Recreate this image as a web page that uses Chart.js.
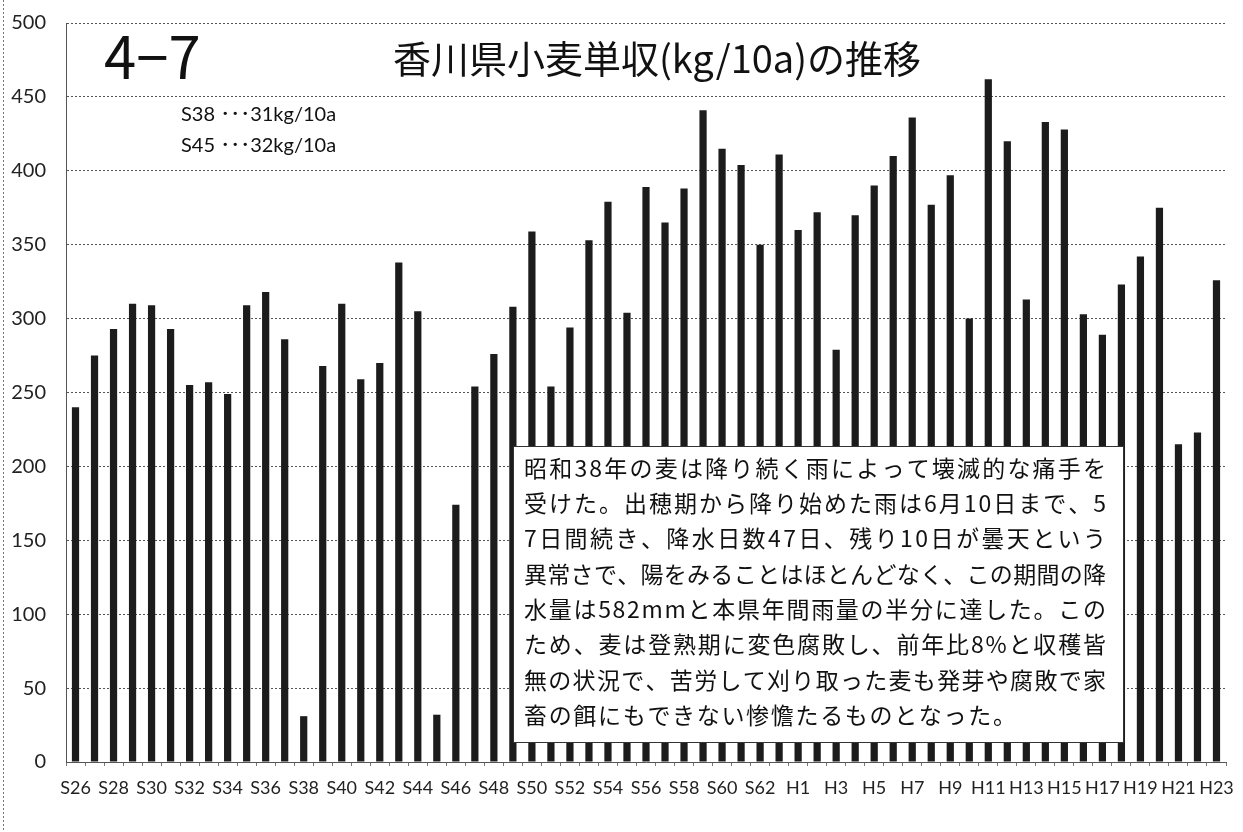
<!DOCTYPE html>
<html lang="ja">
<head>
<meta charset="utf-8">
<title>香川県小麦単収(kg/10a)の推移</title>
<script src="https://cdn.jsdelivr.net/npm/chart.js@4/dist/chart.umd.min.js"></script>
<style>
  html, body { margin: 0; padding: 0; background: #fff; }
  #wrap { width: 1243px; height: 832px; position: relative; }
</style>
</head>
<body>
<div id="wrap"><canvas id="chart" width="1243" height="832"></canvas></div>
<script>
// 年次（昭和26年〜平成23年）
const years = [
  'S26','S27','S28','S29','S30','S31','S32','S33','S34','S35',
  'S36','S37','S38','S39','S40','S41','S42','S43','S44','S45',
  'S46','S47','S48','S49','S50','S51','S52','S53','S54','S55',
  'S56','S57','S58','S59','S60','S61','S62','S63',
  'H1','H2','H3','H4','H5','H6','H7','H8','H9','H10',
  'H11','H12','H13','H14','H15','H16','H17','H18','H19','H20',
  'H21','H22','H23'
];

// 小麦単収 (kg/10a)
const yields = [
  240, 275, 293, 310, 309, 293, 255, 257, 249, 309,
  318, 286, 31, 268, 310, 259, 270, 338, 305, 32,
  174, 254, 276, 308, 359, 254, 294, 353, 379, 304,
  389, 365, 388, 441, 415, 404, 350, 411,
  360, 372, 279, 370, 390, 410, 436, 377, 397, 300,
  462, 420, 313, 433, 428, 303, 289, 323, 342, 375,
  215, 223, 326
];

// 縦軸の目盛
const yTicks = [0, 50, 100, 150, 200, 250, 300, 350, 400, 450, 500];

const figureNo = '4−7';
const chartTitle = '香川県小麦単収(kg/10a)の推移';
const lowYearNotes = ['S38 ･･･31kg/10a', 'S45 ･･･32kg/10a'];
const commentLines = [
  '昭和38年の麦は降り続く雨によって壊滅的な痛手を',
  '受けた。出穂期から降り始めた雨は6月10日まで、5',
  '7日間続き、降水日数47日、残り10日が曇天という',
  '異常さで、陽をみることはほとんどなく、この期間の降',
  '水量は582mmと本県年間雨量の半分に達した。この',
  'ため、麦は登熟期に変色腐敗し、前年比8%と収穫皆',
  '無の状況で、苦労して刈り取った麦も発芽や腐敗で家',
  '畜の餌にもできない惨憺たるものとなった。'
];

const LATIN = 'Lato, "Noto Sans CJK JP", sans-serif';
const CJK = '"Noto Sans CJK JP", sans-serif';

// 見出し・注記・説明ボックスを描くプラグイン
const decorations = {
  id: 'decorations',
  afterDatasetsDraw(chart) {
    const ctx = chart.ctx;
    ctx.save();

    // 外枠（左端の点線）
    ctx.strokeStyle = '#777';
    ctx.lineWidth = 1;
    ctx.setLineDash([2, 2]);
    ctx.beginPath();
    ctx.moveTo(3.5, 0);
    ctx.lineTo(3.5, 832);
    ctx.stroke();
    ctx.setLineDash([]);

    // 図番号とタイトル
    ctx.fillStyle = '#111';
    ctx.textBaseline = 'middle';
    ctx.textAlign = 'left';
    ctx.font = '58px ' + CJK;
    ctx.fillText(figureNo, 104, 57);

    ctx.textAlign = 'center';
    ctx.font = '38px ' + CJK;
    ctx.fillText(chartTitle, 657, 59);

    // 低収量年の注記
    ctx.textAlign = 'left';
    ctx.font = '20px ' + LATIN;
    ctx.fillText(lowYearNotes[0], 181, 115);
    ctx.fillText(lowYearNotes[1], 181, 146);

    // 説明ボックス
    const bx = 513, by = 446, bw = 611, bh = 297;
    ctx.fillStyle = '#fff';
    ctx.fillRect(bx, by, bw, bh);
    ctx.strokeStyle = '#333';
    ctx.lineWidth = 1;
    ctx.strokeRect(bx + 0.5, by + 0.5, bw - 1, bh - 1);

    ctx.fillStyle = '#111';
    ctx.font = '23px ' + CJK;
    ctx.textAlign = 'left';
    const startX = 524, lineW = 582, firstY = 468, step = 35.3;
    const gaps = [];
    commentLines.forEach((line, i) => {
      const chars = Array.from(line);
      const natural = chars.reduce((s, c) => s + ctx.measureText(c).width, 0);
      let gap;
      if (i < commentLines.length - 1) {
        gap = (lineW - natural) / (chars.length - 1);
        gaps.push(gap);
      } else {
        gap = gaps.reduce((s, g) => s + g, 0) / gaps.length;
      }
      let x = startX;
      const y = firstY + i * step;
      chars.forEach(c => {
        ctx.fillText(c, x, y);
        x += ctx.measureText(c).width + gap;
      });
    });

    ctx.restore();
  }
};

new Chart(document.getElementById('chart'), {
  type: 'bar',
  data: {
    labels: years,
    datasets: [{
      data: yields,
      backgroundColor: '#1c1c1c',
      borderWidth: 0,
      barPercentage: 0.38,
      categoryPercentage: 1.0
    }]
  },
  options: {
    responsive: false,
    animation: false,
    events: [],
    layout: { padding: { top: 23, right: 17, left: 0, bottom: 0 } },
    plugins: {
      legend: { display: false },
      tooltip: { enabled: false },
      title: { display: false }
    },
    scales: {
      x: {
        afterFit(scale) {
          scale.height = 70;
          scale.paddingLeft = 0;
          scale.paddingRight = 0;
        },
        grid: {
          display: true,
          drawOnChartArea: false,
          drawTicks: true,
          tickLength: 4,
          color: '#777',
          offset: true
        },
        border: { display: true, color: '#555', dash: [2, 2] },
        ticks: {
          autoSkip: false,
          maxRotation: 0,
          minRotation: 0,
          padding: 11,
          color: '#222',
          font: { family: LATIN, size: 18 },
          callback(value, index) { return index % 2 === 0 ? years[index] : ''; }
        }
      },
      y: {
        min: yTicks[0],
        max: yTicks[yTicks.length - 1],
        afterFit(scale) {
          scale.width = 66;
          scale.paddingTop = 0;
          scale.paddingBottom = 0;
        },
        afterBuildTicks(scale) { scale.ticks = yTicks.map(v => ({ value: v })); },
        grid: { color: '#555', lineWidth: 1, drawTicks: false },
        border: { display: true, color: '#555', dash: [2, 2] },
        ticks: {
          padding: 20,
          color: '#222',
          font: { family: LATIN, size: 20 }
        }
      }
    }
  },
  plugins: [decorations]
});
</script>
</body>
</html>
